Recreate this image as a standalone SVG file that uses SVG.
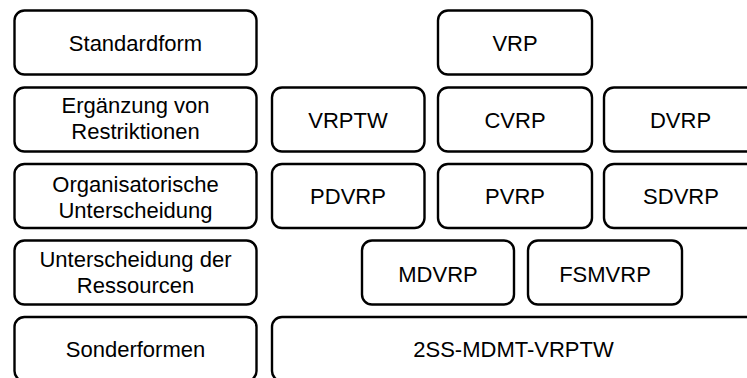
<svg xmlns="http://www.w3.org/2000/svg" width="747" height="378" viewBox="0 0 747 378">
<style>
.box{fill:#fff;stroke:#000;stroke-width:2.4}
.t{font-family:"Liberation Sans",Arial,sans-serif;font-size:22px;fill:#000;text-anchor:middle}
</style>
<rect width="747" height="378" fill="#fff"/>
<g id="connectors"></g>
<g id="standardform"><rect class="box" x="14.5" y="10.5" width="242" height="64" rx="10"/><text class="t" x="135.5" y="51">Standardform</text></g>
<g id="vrp"><rect class="box" x="438" y="10.5" width="154" height="64" rx="10"/><text class="t" x="515" y="51">VRP</text></g>
<g id="ergaenzung"><rect class="box" x="14.5" y="87.5" width="242" height="64" rx="10"/><text class="t" x="135.5" y="113">Ergänzung von</text><text class="t" x="135.5" y="139">Restriktionen</text></g>
<g id="vrptw"><rect class="box" x="272" y="87.5" width="152.5" height="64" rx="10"/><text class="t" x="348" y="127.5">VRPTW</text></g>
<g id="cvrp"><rect class="box" x="438" y="87.5" width="154" height="64" rx="10"/><text class="t" x="515" y="127.5">CVRP</text></g>
<g id="dvrp"><rect class="box" x="604" y="87.5" width="154" height="64" rx="10"/><text class="t" x="680.5" y="127.5">DVRP</text></g>
<g id="organisatorisch"><rect class="box" x="14.5" y="164" width="242" height="64" rx="10"/><text class="t" x="135.5" y="192">Organisatorische</text><text class="t" x="135.5" y="218">Unterscheidung</text></g>
<g id="pdvrp"><rect class="box" x="272" y="164" width="152.5" height="64" rx="10"/><text class="t" x="348" y="204">PDVRP</text></g>
<g id="pvrp"><rect class="box" x="438" y="164" width="154" height="64" rx="10"/><text class="t" x="515" y="204">PVRP</text></g>
<g id="sdvrp"><rect class="box" x="604" y="164" width="154" height="64" rx="10"/><text class="t" x="681" y="204">SDVRP</text></g>
<g id="ressourcen"><rect class="box" x="14.5" y="240.5" width="242" height="64" rx="10"/><text class="t" x="135.5" y="267">Unterscheidung der</text><text class="t" x="135.5" y="293">Ressourcen</text></g>
<g id="mdvrp"><rect class="box" x="362" y="240.5" width="152" height="64" rx="10"/><text class="t" x="438" y="281.5">MDVRP</text></g>
<g id="fsmvrp"><rect class="box" x="528" y="240.5" width="154" height="64" rx="10"/><text class="t" x="605" y="281.5">FSMVRP</text></g>
<g id="sonderformen"><rect class="box" x="14.5" y="317" width="242" height="64" rx="10"/><text class="t" x="135.5" y="357">Sonderformen</text></g>
<g id="ss2mdmt"><rect class="box" x="272" y="317" width="484" height="64" rx="10"/><text class="t" x="513.5" y="357">2SS-MDMT-VRPTW</text></g>
</svg>
